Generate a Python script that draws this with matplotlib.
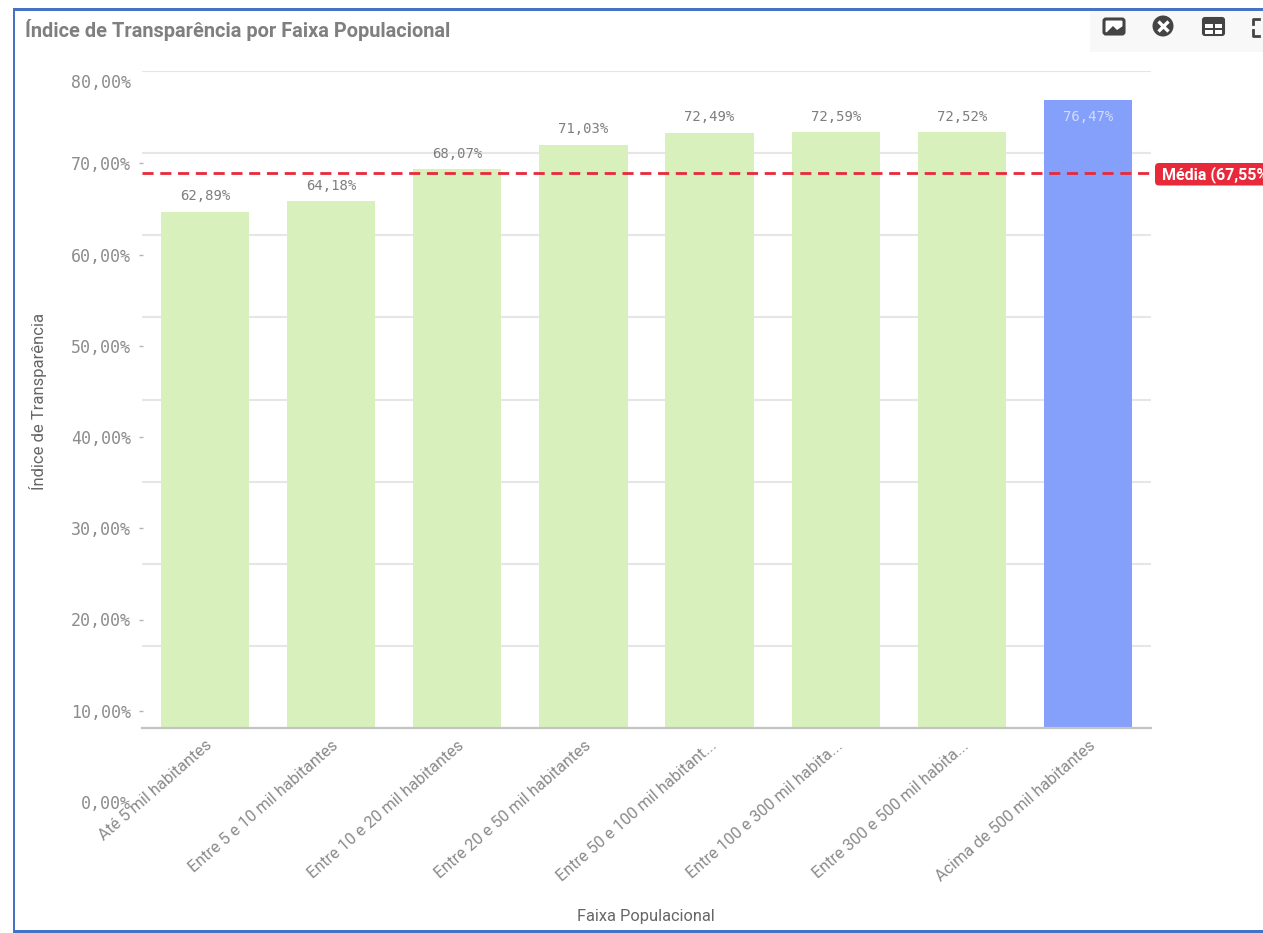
import matplotlib
matplotlib.use("Agg")
import matplotlib.pyplot as plt
from matplotlib.patches import Rectangle, FancyBboxPatch, Circle
from matplotlib.transforms import ScaledTranslation

# =====================================================
# DATA
# =====================================================
CATEGORIES = [
    "Até 5 mil habitantes",
    "Entre 5 e 10 mil habitantes",
    "Entre 10 e 20 mil habitantes",
    "Entre 20 e 50 mil habitantes",
    "Entre 50 e 100 mil habitant...",
    "Entre 100 e 300 mil habita...",
    "Entre 300 e 500 mil habita...",
    "Acima de 500 mil habitantes",
]
VALUES = [62.89, 64.18, 68.07, 71.03, 72.49, 72.59, 72.52, 76.47]
MEAN = 67.55
YTICKS = [0, 10, 20, 30, 40, 50, 60, 70, 80]

W, H = 1263, 933
GREEN = "#d8f0bc"
BLUE = "#84a0fb"
RED = "#e8293a"
GRID = "#e6e6e6"
GRAY = "#7d7d7d"
FRAME = "#4472c4"


def box(left, right, top, bottom):
    return [left / W, 1 - bottom / H, (right - left) / W, (bottom - top) / H]


fig = plt.figure(figsize=(W / 100, H / 100), dpi=100)

# =====================================================
# BARS
# =====================================================
ax = fig.add_axes(box(142, 1151, 71, 728))
ax.set_xlim(-0.5, 7.5)
ax.set_ylim(0, 80)
ax.set_axisbelow(True)
ax.set_yticks(YTICKS)
ax.tick_params(axis="y", left=False, labelleft=False)
ax.grid(axis="y", color=GRID, lw=1.5)
for name in ["top", "left", "right"]:
    ax.spines[name].set_visible(False)
ax.spines["bottom"].set_color("#c4c4c4")
ax.spines["bottom"].set_linewidth(1.6)

colors = [GREEN] * 7 + [BLUE]
ax.bar(range(8), VALUES, width=0.7, color=colors, zorder=2)
ax.axhline(MEAN, color=RED, lw=2, dashes=(4, 2.4), zorder=3)

for i, val in enumerate(VALUES):
    txt = f"{val:.2f}%".replace(".", ",")
    inside = i == 7
    ax.annotate(txt, (i, val), xytext=(0, -12 if inside else 11), textcoords="offset points",
                ha="center", va="center", family="DejaVu Sans Mono", fontsize=10,
                color="#d4dcfa" if inside else GRAY, zorder=4)

ax.set_xticks(range(8))
ax.set_xticklabels(CATEGORIES, rotation=41, ha="right", va="top", rotation_mode="anchor",
                   family="Roboto", fontsize=11.7, color="#8a8a8a")
ax.tick_params(axis="x", length=0, pad=7)

# =====================================================
# Y LABELS (they sit on their own scale in the screenshot)
# =====================================================
ax_y = fig.add_axes(box(143, 1151, 72, 802))
ax_y.patch.set_alpha(0)
ax_y.set_ylim(0, 80)
ax_y.set_xticks([])
for name in ax_y.spines:
    ax_y.spines[name].set_visible(False)
ax_y.set_yticks(YTICKS)
ax_y.set_yticklabels([f"{v:.2f}%".replace(".", ",") for v in YTICKS],
                     family="DejaVu Sans Mono", fontsize=12, color="#8c8c8c")
ax_y.tick_params(axis="y", length=3, width=1, color="#b5b5b5", pad=5.5)
ticks = ax_y.yaxis.get_major_ticks()
ticks[0].tick1line.set_visible(False)
ticks[-1].tick1line.set_visible(False)
top_label = ticks[-1].label1
top_label.set_transform(top_label.get_transform() + ScaledTranslation(0, -9 / 100, fig.dpi_scale_trans))

# =====================================================
# OVERLAY: FRAME, TITLES, TOOLBAR, MEAN TAG
# =====================================================
ov = fig.add_axes([0, 0, 1, 1], zorder=5)
ov.set_xlim(0, W)
ov.set_ylim(H, 0)
ov.axis("off")
ov.patch.set_alpha(0)

ov.add_patch(Rectangle((13, 8), 2, 924, color=FRAME, lw=0))
ov.add_patch(Rectangle((13, 8), W - 13, 3, color=FRAME, lw=0))
ov.add_patch(Rectangle((13, 930), W - 13, 3, color=FRAME, lw=0))

ov.text(25, 30, "Índice de Transparência por Faixa Populacional", family="Roboto", fontsize=14.4,
        fontweight="bold", color="#7f7f7f", va="center", ha="left")
ov.text(646, 917, "Faixa Populacional", family="Roboto", fontsize=11.8, color="#666666",
        ha="center", va="center")
ov.text(38, 401, "Índice de Transparência", family="Roboto", fontsize=12, color="#666666",
        rotation=90, ha="center", va="center")

# toolbar
ov.add_patch(Rectangle((1090, 11), W - 1090, 41, color="#f8f8f8", lw=0, zorder=1))
ov.add_patch(FancyBboxPatch((1104, 19), 20, 15, boxstyle="round,pad=0,rounding_size=2",
                            fc="white", ec="#444444", lw=2.2, zorder=2))
ov.fill([1106, 1113, 1117, 1123, 1123, 1106], [33, 26, 30, 26, 33, 33], color="#444444", lw=0, zorder=3)
ov.add_patch(Circle((1163, 26), 10.5, color="#444444", lw=0, zorder=2))
ov.plot([1163], [26], marker="x", ms=7, mew=2.4, color="white", zorder=3)
ov.add_patch(FancyBboxPatch((1203, 18), 21, 17, boxstyle="round,pad=0,rounding_size=2",
                            fc="#444444", ec="#444444", lw=1.5, zorder=2))
ov.add_patch(Rectangle((1205, 24), 7.5, 4, color="white", lw=0, zorder=3))
ov.add_patch(Rectangle((1214.5, 24), 7.5, 4, color="white", lw=0, zorder=3))
ov.add_patch(Rectangle((1205, 30), 7.5, 3.5, color="white", lw=0, zorder=3))
ov.add_patch(Rectangle((1214.5, 30), 7.5, 3.5, color="white", lw=0, zorder=3))
ov.plot([1253, 1253, 1259], [24, 18.5, 18.5], color="#444444", lw=2, zorder=3)
ov.plot([1253, 1253, 1259], [30, 35.5, 35.5], color="#444444", lw=2, zorder=3)

# mean tag
ov.add_patch(FancyBboxPatch((1155, 163), 120, 22.5, boxstyle="round,pad=0,rounding_size=4",
                            fc=RED, ec="none", zorder=2))
ov.text(1162, 174.5, f"Média ({MEAN:.2f}%)".replace(".", ","), family="Roboto", fontsize=11.5,
        fontweight="bold", color="white", va="center", ha="left", zorder=3)

fig.savefig("out.png", dpi=100)
